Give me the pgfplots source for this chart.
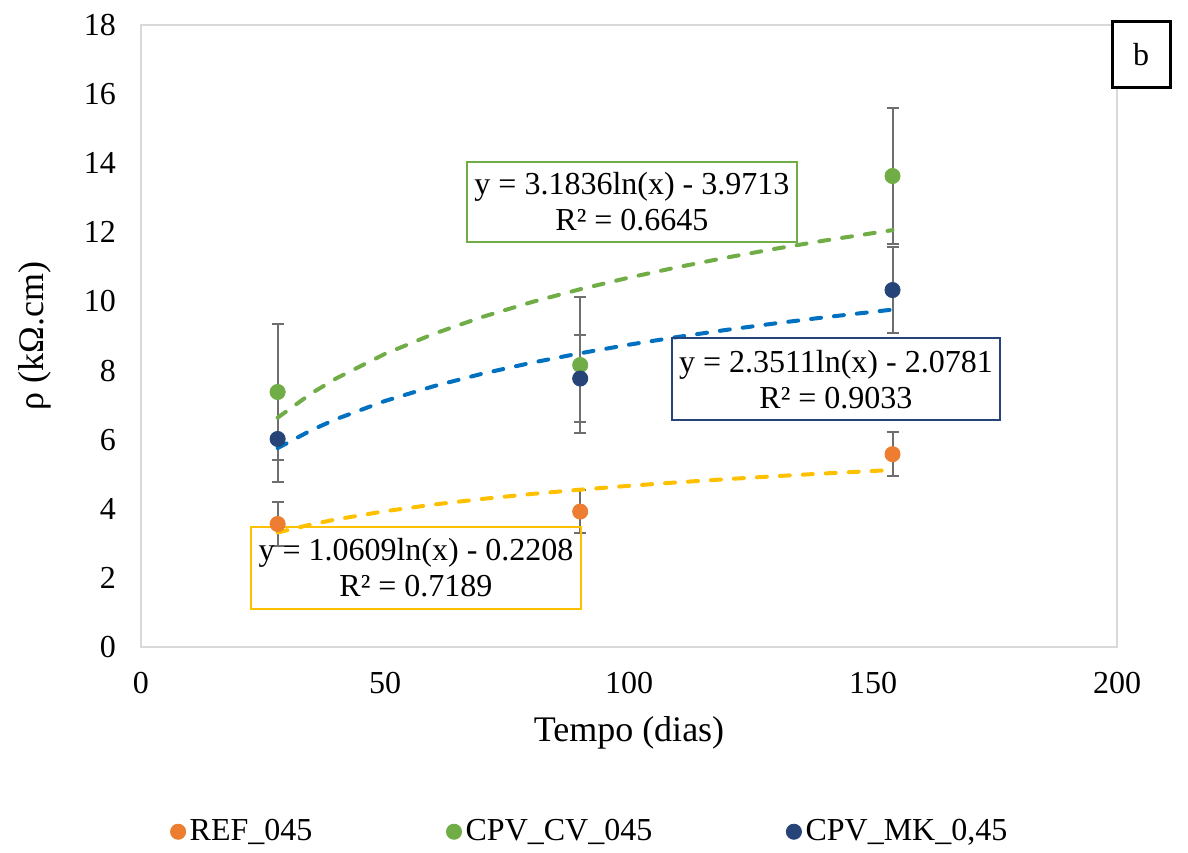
\documentclass[border=0pt]{standalone}
\usepackage{fontspec}
\setmainfont{Liberation Serif}
\usepackage{pgfplots}
\pgfplotsset{compat=1.18}
\definecolor{cref}{HTML}{ED7D31}
\definecolor{ccv}{HTML}{70AD47}
\definecolor{cmk}{HTML}{264478}
\definecolor{tblue}{HTML}{0070C0}
\definecolor{tyel}{HTML}{FFC000}
\definecolor{errgray}{HTML}{6E6E6E}
\definecolor{axgray}{HTML}{D9D9D9}
\begin{document}
\begin{tikzpicture}
\begin{axis}[
  at={(0pt,0pt)}, anchor=south west,
  scale only axis, width=488pt, height=311pt,
  xmin=0, xmax=200, ymin=0, ymax=18,
  xtick={0,50,100,150,200}, ytick={0,2,...,18},
  axis line style={draw=axgray, line width=0.6pt},
  major tick length=0pt,
  tick label style={font=\fontsize{16}{19}\selectfont},
  yticklabel style={xshift=-9pt},
  xticklabel style={yshift=-9pt},
  /pgf/number format/assume math mode=true,
  xlabel={Tempo (dias)}, ylabel={ρ (kΩ.cm)},
  label style={font=\fontsize{18}{21}\selectfont},
  xlabel style={at={(axis description cs:0.5,-0.138)}, anchor=center},
  ylabel style={at={(axis description cs:-0.1086,0.5)}, anchor=center},
  legend style={at={(axis description cs:0.461,-0.297)}, anchor=center,
    legend columns=3, draw=none, fill=none,
    font=\fontsize{16}{19}\selectfont,
    /tikz/every even column/.append style={column sep=65pt}},
  legend image code/.code={\draw[#1] plot coordinates {(0.15cm,0cm)};},
  clip=false,
  trend/.style={forget plot, no marks, line width=2pt, line cap=round, dash pattern=on 5pt off 6.5pt},
]
\addplot[only marks, mark=*, mark size=3.8pt, color=cref,
  error bars/.cd, y dir=both, y explicit,
  error bar style={color=errgray, line width=1pt},
  error mark options={rotate=90, mark size=3pt, color=errgray, line width=1pt}]
  coordinates {(28,3.56) +- (0,0.64) (90,3.92) +- (0,0.62) (154,5.58) +- (0,0.63)};
\addlegendentry{REF\_045}
\addplot[only marks, mark=*, mark size=3.8pt, color=ccv,
  error bars/.cd, y dir=both, y explicit,
  error bar style={color=errgray, line width=1pt},
  error mark options={rotate=90, mark size=3pt, color=errgray, line width=1pt}]
  coordinates {(28,7.38) +- (0,1.96) (90,8.16) +- (0,1.97) (154,13.63) +- (0,1.96)};
\addlegendentry{CPV\_CV\_045}
\addplot[only marks, mark=*, mark size=3.8pt, color=cmk,
  error bars/.cd, y dir=both, y explicit,
  error bar style={color=errgray, line width=1pt},
  error mark options={rotate=90, mark size=3pt, color=errgray, line width=1pt}]
  coordinates {(28,6.02) +- (0,1.24) (90,7.77) +- (0,1.26) (154,10.33) +- (0,1.25)};
\addlegendentry{CPV\_MK\_0,45}
% trendlines (logarithmic fits, sampled)
\addplot[trend, color=ccv]
  coordinates {(28,6.637) (35,7.348) (40,7.773) (50,8.483) (60,9.063) (70,9.554) (80,9.979) (90,10.354) (100,10.690) (110,10.993) (120,11.270) (130,11.525) (140,11.761) (154,12.064)};
\addplot[trend, color=tblue]
  coordinates {(28,5.756) (35,6.281) (40,6.595) (50,7.120) (60,7.548) (70,7.911) (80,8.225) (90,8.501) (100,8.749) (110,8.973) (120,9.178) (130,9.366) (140,9.540) (154,9.764)};
\addplot[trend, color=tyel]
  coordinates {(28,3.314) (35,3.551) (40,3.693) (50,3.930) (60,4.123) (70,4.286) (80,4.428) (90,4.553) (100,4.665) (110,4.766) (120,4.858) (130,4.943) (140,5.022) (154,5.123)};
\node[draw=ccv, line width=0.75pt, minimum width=165pt, minimum height=40pt, align=center,
  font=\fontsize{16}{18}\selectfont] at (axis cs:100.6,12.88)
  {y = 3.1836ln(x) - 3.9713\\R² = 0.6645};
\node[draw=cmk, line width=0.75pt, minimum width=164pt, minimum height=41pt, align=center,
  font=\fontsize{16}{18}\selectfont] at (axis cs:142.4,7.75)
  {y = 2.3511ln(x) - 2.0781\\R² = 0.9033};
\node[draw=tyel, line width=0.75pt, minimum width=165pt, minimum height=41pt, align=center,
  font=\fontsize{16}{18}\selectfont] at (axis cs:56.35,2.29)
  {y = 1.0609ln(x) - 0.2208\\R² = 0.7189};
\end{axis}
\draw[black, line width=1.5pt, fill=white] (485.5pt,279.5pt) rectangle (514.5pt,312.5pt);
\node[font=\fontsize{16}{19}\selectfont] at (500pt,296pt) {b};
\path (-70.5pt,-102.5pt) rectangle (523.5pt,323.5pt);
\end{tikzpicture}
\end{document}
